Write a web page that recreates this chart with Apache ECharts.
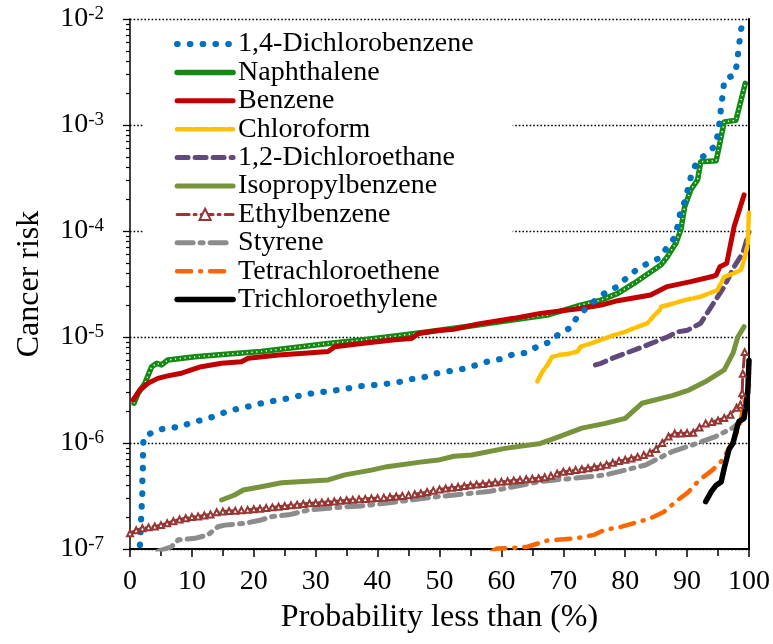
<!DOCTYPE html>
<html>
<head>
<meta charset="utf-8">
<script src="https://cdn.jsdelivr.net/npm/echarts@6/dist/echarts.min.js"></script>
<style>
html,body{margin:0;padding:0;background:#fff;}
#chart{width:773px;height:644px;}
</style>
</head>
<body>
<div id="chart"></div>
<script>
// ---- data (x = probability %, y = cancer risk) ----
const seriesNames = ['1,4-Dichlorobenzene','Naphthalene','Benzene','Chloroform','1,2-Dichloroethane',
  'Isopropylbenzene','Ethylbenzene','Styrene','Tetrachloroethene','Trichloroethylene'];
const xTicks = [0,10,20,30,40,50,60,70,80,90,100];
const yDecades = [1e-7,1e-6,1e-5,1e-4,1e-3,1e-2];

const dichlorobenzene14 = [[1.6,1.09e-7],[1.8,1.95e-7],[1.9,2.6e-7],[2.0,3.48e-7],[2.0,4.65e-7],[2.1,6.2e-7],[2.1,8.3e-7],[2.2,1.13e-6],[4.0,1.3e-6],[6,1.39e-6],[8,1.41e-6],[10,1.57e-6],[12.1,1.67e-6],[14.1,1.82e-6],[15.9,2.02e-6],[18,2.13e-6],[20.1,2.28e-6],[22.2,2.45e-6],[24.3,2.55e-6],[26.3,2.7e-6],[28.4,2.88e-6],[30.5,3.0e-6],[32.7,3.11e-6],[34.7,3.22e-6],[36.9,3.43e-6],[39,3.5e-6],[41.2,3.6e-6],[43.4,3.75e-6],[45.4,4.0e-6],[47.5,4.18e-6],[49.6,4.55e-6],[53.7,4.99e-6],[55.8,5.4e-6],[57.7,5.85e-6],[59.9,6.2e-6],[62,6.9e-6],[64.1,7.1e-6],[65.9,8.2e-6],[67.9,9.0e-6],[69.5,1.1e-5],[71.2,1.22e-5],[72.3,1.58e-5],[75.2,2.23e-5],[76.9,2.65e-5],[78.8,3.0e-5],[80.3,3.65e-5],[81.7,4.25e-5],[83.6,4.95e-5],[85.4,5.5e-5],[86.7,6.9e-5],[87.8,8.4e-5],[88.5,1.12e-4],[88.9,1.5e-4],[89.7,1.95e-4],[90.2,2.6e-4],[90.7,3.4e-4],[91.5,4.4e-4],[93.0,5.3e-4],[94.6,6.4e-4],[95.0,8.5e-4],[95.3,1.13e-3],[95.5,1.51e-3],[95.8,2.0e-3],[96.0,2.66e-3],[97.7,3.0e-3],[98.1,3.9e-3],[98.3,5.2e-3],[98.6,7.0e-3],[98.9,9.4e-3],[99.1,1.0e-2]];

const naphthalene = [[0.65,2.37e-6],[1.3,2.94e-6],[2.4,3.66e-6],[3.5,5.25e-6],[4.3,5.65e-6],[5.1,5.45e-6],[6.1,6.07e-6],[10.5,6.5e-6],[15.9,6.9e-6],[21.2,7.3e-6],[26.6,7.97e-6],[32,8.7e-6],[37.4,9.37e-6],[42.8,1.02e-5],[48.2,1.12e-5],[55,1.27e-5],[62,1.45e-5],[67.4,1.61e-5],[72.8,2.0e-5],[76.1,2.23e-5],[78.8,2.58e-5],[81.4,3.2e-5],[84.1,4.1e-5],[85.8,4.8e-5],[86.8,5.7e-5],[88.2,7.7e-5],[89,1.03e-4],[89.6,1.69e-4],[90.6,2.45e-4],[91.7,3.05e-4],[92.2,4.5e-4],[94.7,4.6e-4],[96.0,1.07e-3],[97.9,1.11e-3],[99.4,2.47e-3]];

const benzene = [[0.5,2.55e-6],[1.6,3.16e-6],[2.9,3.66e-6],[4.5,4.07e-6],[6.1,4.3e-6],[8.3,4.55e-6],[9.9,4.9e-6],[11.5,5.25e-6],[14.8,5.65e-6],[18,5.85e-6],[19.1,6.3e-6],[24,6.76e-6],[29.3,7.1e-6],[32,7.3e-6],[33.1,8.1e-6],[37.4,8.7e-6],[42.8,9.4e-6],[45.5,9.7e-6],[46.6,1.08e-5],[49.8,1.15e-5],[52.3,1.18e-5],[56.3,1.33e-5],[62,1.5e-5],[66.3,1.67e-5],[72.8,1.86e-5],[76.1,2.0e-5],[78.8,2.2e-5],[84.1,2.49e-5],[86.8,2.99e-5],[90.6,3.33e-5],[93.9,3.7e-5],[94.7,3.84e-5],[95.3,4.6e-5],[96.4,4.95e-5],[97.6,1.1e-4],[99.2,2.19e-4]];

const chloroform = [[65.8,3.8e-6],[66.6,4.7e-6],[67.4,5.4e-6],[68.2,6.5e-6],[69.5,6.8e-6],[70.7,6.9e-6],[72.3,7.3e-6],[72.8,8.1e-6],[74.5,8.7e-6],[76.1,9.4e-6],[78.2,1.04e-5],[80,1.12e-5],[81.4,1.21e-5],[83.6,1.35e-5],[84.7,1.6e-5],[85.6,1.8e-5],[85.8,1.93e-5],[87.5,2.05e-5],[89.6,2.23e-5],[92.2,2.4e-5],[94.9,2.77e-5],[96,3.7e-5],[97.6,4.0e-5],[98.7,4.3e-5],[99.2,5.3e-5],[99.8,7.4e-5],[100,1.58e-4]];

const dichloroethane12 = [[75.2,5.45e-6],[76.1,5.65e-6],[78.2,6.4e-6],[81.4,7.5e-6],[84,8.6e-6],[86.8,1.0e-5],[88.5,1.12e-5],[90.1,1.16e-5],[92.2,1.35e-5],[93.9,1.93e-5],[96,2.99e-5],[97.6,4.6e-5],[99,6.2e-5],[100,9.8e-5]];

const isopropylbenzene = [[14.8,2.9e-7],[16.9,3.23e-7],[18.3,3.6e-7],[21.2,3.87e-7],[24.5,4.22e-7],[29.3,4.38e-7],[32,4.48e-7],[34.7,5.0e-7],[39,5.55e-7],[41.5,5.98e-7],[46.9,6.6e-7],[49.8,6.9e-7],[52.3,7.5e-7],[55.2,7.7e-7],[60.6,8.9e-7],[66.3,9.9e-7],[68.7,1.11e-6],[73,1.38e-6],[76.8,1.53e-6],[80,1.71e-6],[82.7,2.37e-6],[87.6,2.8e-6],[90.3,3.16e-6],[93,3.8e-6],[96,4.9e-6],[97.4,7.0e-6],[98.2,1.0e-5],[99.2,1.25e-5]];

const ethylbenzeneX = [0,1,2,3,4,5,6,7,8,9,10,11,12,13,14,15,16,17,18,19,20,21,22,23,24,25,26,27,28,29,30,31,32,33,34,35,36,37,38,39,40,41,42,43,44,45,46,47,48,49,50,51,52,53,54,55,56,57,58,59,60,61,62,63,64,65,66,67,68,69,70,71,72,73,74,75,76,77,78,79,80,81,82,83,84,85,86,87,88,89,90,91,92,93,94,95,96,97,98,98.6,98.9,99.0,99.3];
const ethylbenzeneY = [1.41e-7,1.5e-7,1.57e-7,1.6e-7,1.63e-7,1.68e-7,1.75e-7,1.83e-7,1.9e-7,1.95e-7,2.0e-7,2.03e-7,2.07e-7,2.12e-7,2.22e-7,2.26e-7,2.28e-7,2.3e-7,2.32e-7,2.34e-7,2.37e-7,2.4e-7,2.44e-7,2.47e-7,2.5e-7,2.54e-7,2.58e-7,2.62e-7,2.66e-7,2.7e-7,2.72e-7,2.75e-7,2.78e-7,2.81e-7,2.85e-7,2.88e-7,2.91e-7,2.94e-7,2.97e-7,3.0e-7,3.02e-7,3.05e-7,3.09e-7,3.13e-7,3.17e-7,3.22e-7,3.28e-7,3.35e-7,3.45e-7,3.55e-7,3.65e-7,3.72e-7,3.78e-7,3.85e-7,3.92e-7,4.0e-7,4.05e-7,4.1e-7,4.17e-7,4.25e-7,4.3e-7,4.36e-7,4.42e-7,4.48e-7,4.55e-7,4.6e-7,4.65e-7,4.75e-7,4.9e-7,5.15e-7,5.35e-7,5.45e-7,5.55e-7,5.65e-7,5.77e-7,5.9e-7,6.05e-7,6.25e-7,6.5e-7,6.75e-7,6.95e-7,7.15e-7,7.4e-7,7.7e-7,8.1e-7,8.8e-7,1.0e-6,1.15e-6,1.23e-6,1.23e-6,1.24e-6,1.25e-6,1.4e-6,1.53e-6,1.58e-6,1.63e-6,1.72e-6,1.85e-6,2.15e-6,2.3e-6,2.95e-6,4.5e-6,7.2e-6];

const styrene = [[4.5,9.5e-8],[6.7,1.05e-7],[7.8,1.22e-7],[10.5,1.26e-7],[12.6,1.36e-7],[14.2,1.62e-7],[15.3,1.68e-7],[18.6,1.75e-7],[21.2,1.88e-7],[22.9,2.02e-7],[25.6,2.1e-7],[28.8,2.33e-7],[32,2.42e-7],[34.7,2.5e-7],[37.4,2.55e-7],[41.2,2.7e-7],[45.5,2.9e-7],[49.8,3.12e-7],[57.9,3.48e-7],[66,4.3e-7],[68.7,4.48e-7],[74.1,4.8e-7],[76.8,5.0e-7],[80,5.55e-7],[83.3,6.2e-7],[87.6,8.3e-7],[90.9,9.6e-7],[94.6,1.15e-6],[97.3,1.38e-6],[98.4,1.55e-6]];

const tetrachloroethene = [[58.5,9.5e-8],[59.3,1.01e-7],[61.5,1.02e-7],[64.2,1.05e-7],[67.4,1.2e-7],[69,1.22e-7],[72,1.26e-7],[75,1.36e-7],[76.6,1.51e-7],[79.3,1.62e-7],[82.5,1.83e-7],[84.1,1.95e-7],[86.3,2.25e-7],[88.5,2.9e-7],[90.1,3.4e-7],[92,4.48e-7],[94.1,5.55e-7],[95.5,6.7e-7],[97.6,1.07e-6],[98.7,1.65e-6],[99.2,2.4e-6],[100,3.5e-6]];

const trichloroethylene = [[93.0,2.8e-7],[93.9,3.48e-7],[94.7,4.0e-7],[95.5,4.3e-7],[96.0,5.8e-7],[96.8,8.8e-7],[97.4,9.9e-7],[98.2,1.5e-6],[98.4,1.6e-6],[99.2,1.71e-6],[99.8,3.0e-6],[100,6.0e-6]];

const colors = ['#0070C0','#138A13','#C00000','#FFC000','#604A7B','#77933C','#953735','#8C8C8C','#FF6600','#000000'];

// ---- build ----
const FONT = 'Liberation Serif';
const minorValues = [];
for (let i = 0; i < yDecades.length - 1; i++) {
  for (let m = 2; m <= 9; m++) minorValues.push(+(m * yDecades[i]).toPrecision(3));
}
const ethylbenzene = ethylbenzeneX.map((x, i) => [x, ethylbenzeneY[i]]);

// line style per legend entry: [width, dash]
const styles = [
  [6.2, [0.5, 12.3]],
  [5.5, 'solid'],
  [5, 'solid'],
  [4.5, [14, 3]],
  [5, [11, 7]],
  [5, 'solid'],
  [3, [12, 5, 2, 5]],
  [5, [16, 7, 3, 7]],
  [4.5, [14, 9, 1, 9]],
  [5.5, 'solid']
];

function line(idx, data, extra) {
  const c = colors[idx];
  return Object.assign({
    name: seriesNames[idx], type: 'line', data: data, symbol: 'none', showSymbol: false,
    lineStyle: { color: c, width: styles[idx][0], type: styles[idx][1], cap: 'round', join: 'round' },
    itemStyle: { color: c },
    emphasis: { disabled: true }, silent: true, animation: false
  }, extra || {});
}

const series = [
  line(5, isopropylbenzene),
  line(7, styrene),
  line(6, ethylbenzene, {
    symbol: 'emptyTriangle', showSymbol: true, showAllSymbol: true, symbolSize: 6,
    itemStyle: { color: colors[6], borderWidth: 1.3 }
  }),
  line(8, tetrachloroethene),
  line(9, trichloroethylene),
  line(4, dichloroethane12),
  line(3, chloroform),
  line(1, naphthalene),
  {
    name: 'Naphthalene dots', type: 'line', data: naphthalene, symbol: 'none', showSymbol: false,
    lineStyle: { color: '#fff', width: 1.5, type: [1.2, 3.6], cap: 'butt' },
    emphasis: { disabled: true }, silent: true, animation: false
  },
  line(2, benzene),
  line(0, dichlorobenzene14)
];

const legendData = seriesNames.map((n, i) => ({
  name: n,
  itemStyle: i === 6 ? { opacity: 1, color: colors[6], borderWidth: 1.3 } : { opacity: 0 },
  lineStyle: { width: styles[i][0], type: styles[i][1], color: colors[i], cap: 'round' }
}));

const chart = echarts.init(document.getElementById('chart'), null, { renderer: 'canvas' });
chart.setOption({
  backgroundColor: '#fff',
  animation: false,
  textStyle: { fontFamily: FONT },
  grid: { left: 130, right: 24, top: 19, bottom: 95, containLabel: false },
  legend: {
    data: legendData,
    orient: 'vertical',
    left: 143, top: 22,
    padding: [8, 39, 2, 31],
    backgroundColor: '#fff',
    itemWidth: 56, itemHeight: 14, itemGap: 0.4,
    selectedMode: false,
    textStyle: { fontFamily: FONT, fontSize: 28, color: '#000', lineHeight: 28 }
  },
  xAxis: {
    type: 'value', min: 0, max: 100, interval: 10,
    name: 'Probability less than (%)', nameLocation: 'middle', nameGap: 53,
    nameTextStyle: { fontFamily: FONT, fontSize: 32, color: '#000' },
    axisLine: { show: true, onZero: false, lineStyle: { color: '#000', width: 2 } },
    axisTick: { show: true, length: 8, lineStyle: { color: '#000', width: 1.5 } },
    minorTick: { show: true, splitNumber: 2, length: 7, lineStyle: { color: '#000', width: 1.5 } },
    axisLabel: { fontFamily: FONT, fontSize: 28, color: '#000', margin: 19,
      customValues: xTicks },
    splitLine: { show: false }
  },
  yAxis: [
    {
      type: 'log', logBase: 10, min: 1e-7, max: 1e-2, position: 'left',
      name: 'Cancer risk', nameLocation: 'middle', nameGap: 84,
      nameTextStyle: { fontFamily: FONT, fontSize: 32, color: '#000' },
      axisLine: { show: true, lineStyle: { color: '#000', width: 1.5 } },
      axisTick: { show: true, length: 7, lineStyle: { color: '#000', width: 1.3 }, customValues: yDecades },
      axisLabel: {
        customValues: yDecades,
        margin: 26,
        formatter: function (v) { return '10{sup|' + Math.round(Math.log10(v)) + '}'; },
        fontFamily: FONT, fontSize: 28, color: '#000', lineHeight: 28,
        rich: { sup: { fontFamily: FONT, fontSize: 19, color: '#000', verticalAlign: 'top', lineHeight: 28, padding: [0, 0, 10, 0] } }
      },
      splitLine: { show: true, lineStyle: { color: '#000', width: 1.4, type: [1.6, 2] } }
    },
    {
      type: 'log', logBase: 10, min: 1e-7, max: 1e-2, position: 'left',
      axisLine: { show: false },
      axisTick: { show: true, length: 4, lineStyle: { color: '#000', width: 1.2 }, customValues: minorValues },
      axisLabel: { show: false },
      splitLine: { show: false }
    },
    {
      type: 'log', logBase: 10, min: 1e-7, max: 1e-2, position: 'right',
      axisLine: { show: true, lineStyle: { color: '#000', width: 2 } },
      axisTick: { show: false }, axisLabel: { show: false }, splitLine: { show: false }
    }
  ],
  series: series
});
</script>
</body>
</html>
